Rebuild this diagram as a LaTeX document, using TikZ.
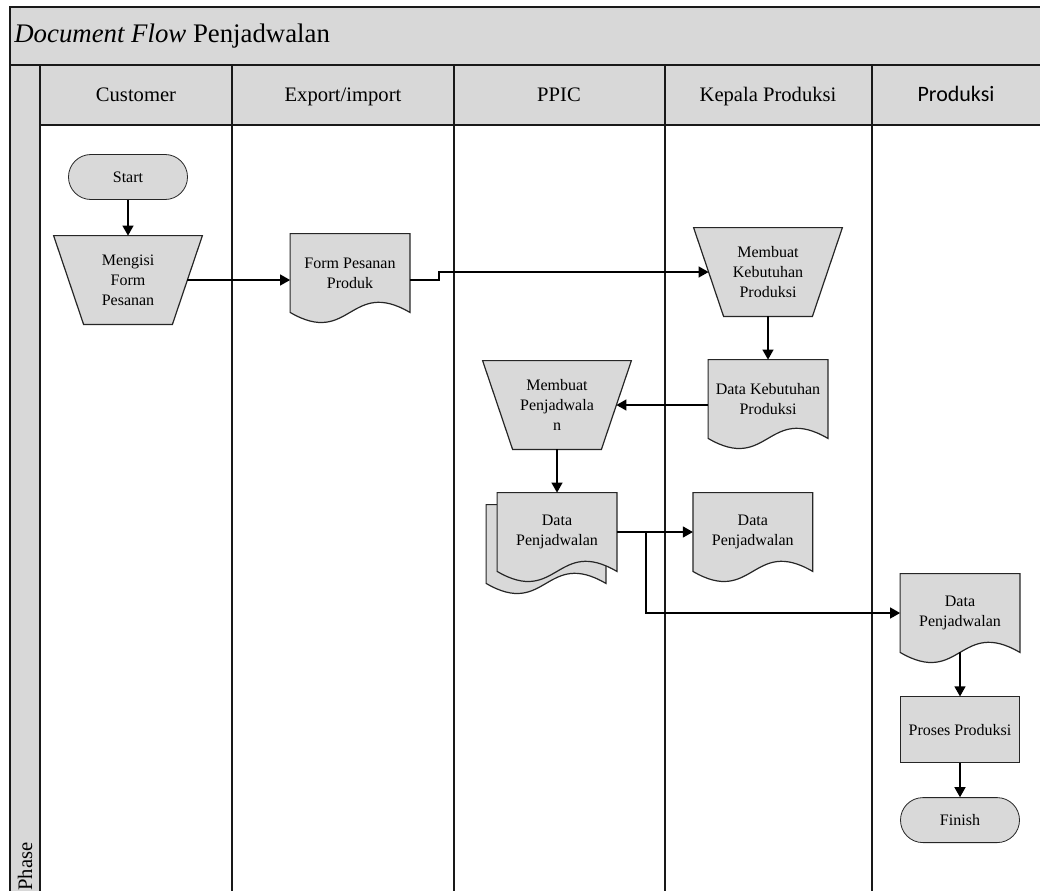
\documentclass[tikz,border=0pt]{standalone}
\usepackage{fontspec}
\setmainfont{Liberation Serif}
\newfontfamily\calibri{Carlito}
\usetikzlibrary{positioning,calc,arrows.meta,backgrounds}
\definecolor{lanegray}{RGB}{216,216,216}
\definecolor{boxgray}{RGB}{217,217,217}
\tikzset{
  lane/.style={draw=black!90, line width=0.8pt},
  head/.style={font=\fontsize{10.3}{12}\selectfont, anchor=base},
  small/.style={font=\fontsize{8}{10}\selectfont, align=center},
  terminal/.style={small, rectangle, rounded corners=11.2pt, draw=black!85, fill=boxgray, minimum width=59.5pt, minimum height=22.5pt},
  manual/.style={small, rectangle, minimum width=74pt, minimum height=44pt, inner sep=1pt},
  doc/.style={small, rectangle, minimum width=59.5pt, minimum height=39pt, inner sep=1pt},
  outline/.style={draw=black!85, fill=boxgray, line width=0.6pt},
  process/.style={small, rectangle, draw=black!85, fill=boxgray, minimum width=59.5pt, minimum height=33pt},
  connect/.style={-{Triangle[length=5pt,width=5.5pt]}, line width=0.65pt}
}

\begin{document}
\begin{tikzpicture}[x=0.5pt, y=-0.5pt]
  \useasboundingbox (0,0) rectangle (1040,890);
  \clip (0,0) rectangle (1040,890);

  % pool: title band, lane headers and phase column
  \fill[lanegray] (10,7) rectangle (1045,65);
  \fill[lanegray] (40,65) rectangle (1045,125);
  \fill[lanegray] (10,65) rectangle (40,895);
  \draw[lane] (10,895) -- (10,7) -- (1045,7);
  \draw[lane] (10,65) -- (1045,65);
  \draw[lane] (40,125) -- (1045,125);
  \foreach \x in {40,232,454,665,872}
    \draw[lane] (\x,65) -- (\x,895);

  \node[anchor=west, inner sep=0pt, font=\fontsize{13.4}{16}\selectfont] (title) at (14,36) {\textit{Document Flow} Penjadwalan};
  \node[head] (customer) at (136,101) {Customer};
  \node[head] (export) at (343,101) {Export/import};
  \node[head] (ppic) at (559,101) {PPIC};
  \node[head] (kepala) at (768,101) {Kepala Produksi};
  \node[head, font=\calibri\fontsize{11}{13}\selectfont] (produksi) at (956,101) {Produksi};
  \node[rotate=90, anchor=east, inner sep=0pt, font=\fontsize{10.3}{12}\selectfont] (phase) at (25,842) {Phase};

  % customer
  \node[terminal] (start) at (128,177) {Start};
  \node[manual] (mfp) at (128,280) {Mengisi\\Form\\Pesanan};
  \coordinate (mfp-r) at ($(mfp.east)+(-15,0)$);
  \draw[connect] (start) -- (mfp.north);

  % export/import
  \node[doc] (fpp) at (350,273) {Form Pesanan\\Produk};
  \draw[connect] (mfp-r) -- (fpp.west |- mfp-r);

  % kepala produksi
  \node[manual] (mkp) at (768,272) {Membuat\\Kebutuhan\\Produksi};
  \coordinate (mkp-l) at ($(mkp.west)+(15,0)$);
  \node[doc] (dkp) at (768,399) {Data Kebutuhan\\Produksi};
  \draw[connect] (fpp.east |- mfp-r) -- ++(29,0) |- (mkp-l);
  \draw[connect] (mkp.south) -- (dkp.north);

  % ppic
  \node[manual] (mpj) at (557,405) {Membuat\\Penjadwala\\n};
  \coordinate (mpj-r) at ($(mpj.east)+(-15,0)$);
  \node[doc] (dpp) at (557,532) {Data\\Penjadwalan};
  \node[doc] (dppb) at (546,544) {};
  \draw[connect] (dkp.west |- mpj-r) -- (mpj-r);
  \draw[connect] (mpj.south) -- (dpp.north);

  \node[doc, right=38pt of dpp] (dpk) {Data\\Penjadwalan};
  \draw[connect] (dpp.east) -- (dpk.west);

  % produksi
  \node[doc] (dpm) at (960,613) {Data\\Penjadwalan};
  \node[process, below=22pt of dpm] (pp) {Proses Produksi};
  \node[terminal, below=17pt of pp] (finish) {Finish};
  \draw[connect] (dpp.east) -- ++(29,0) |- (dpm);
  \draw[connect] (dpm) -- (pp);
  \draw[connect] (pp) -- (finish);

  % outlines: manual operations and documents with the wavy bottom
  \begin{scope}[on background layer]
    \foreach \t in {mfp,mkp,mpj}
      \draw[outline] (\t.north west) -- (\t.north east) -- ($(\t.south east)+(-30,0)$)
        -- ($(\t.south west)+(30,0)$) -- cycle;
    \foreach \d in {dppb,dpp,fpp,dkp,dpk,dpm}
      \draw[outline] (\d.north west) -- (\d.north east) -- (\d.south east)
        .. controls ($(\d.south)+(0,-35)$) and ($(\d.south)+(0,35)$) .. (\d.south west) -- cycle;
  \end{scope}
\end{tikzpicture}
\end{document}
